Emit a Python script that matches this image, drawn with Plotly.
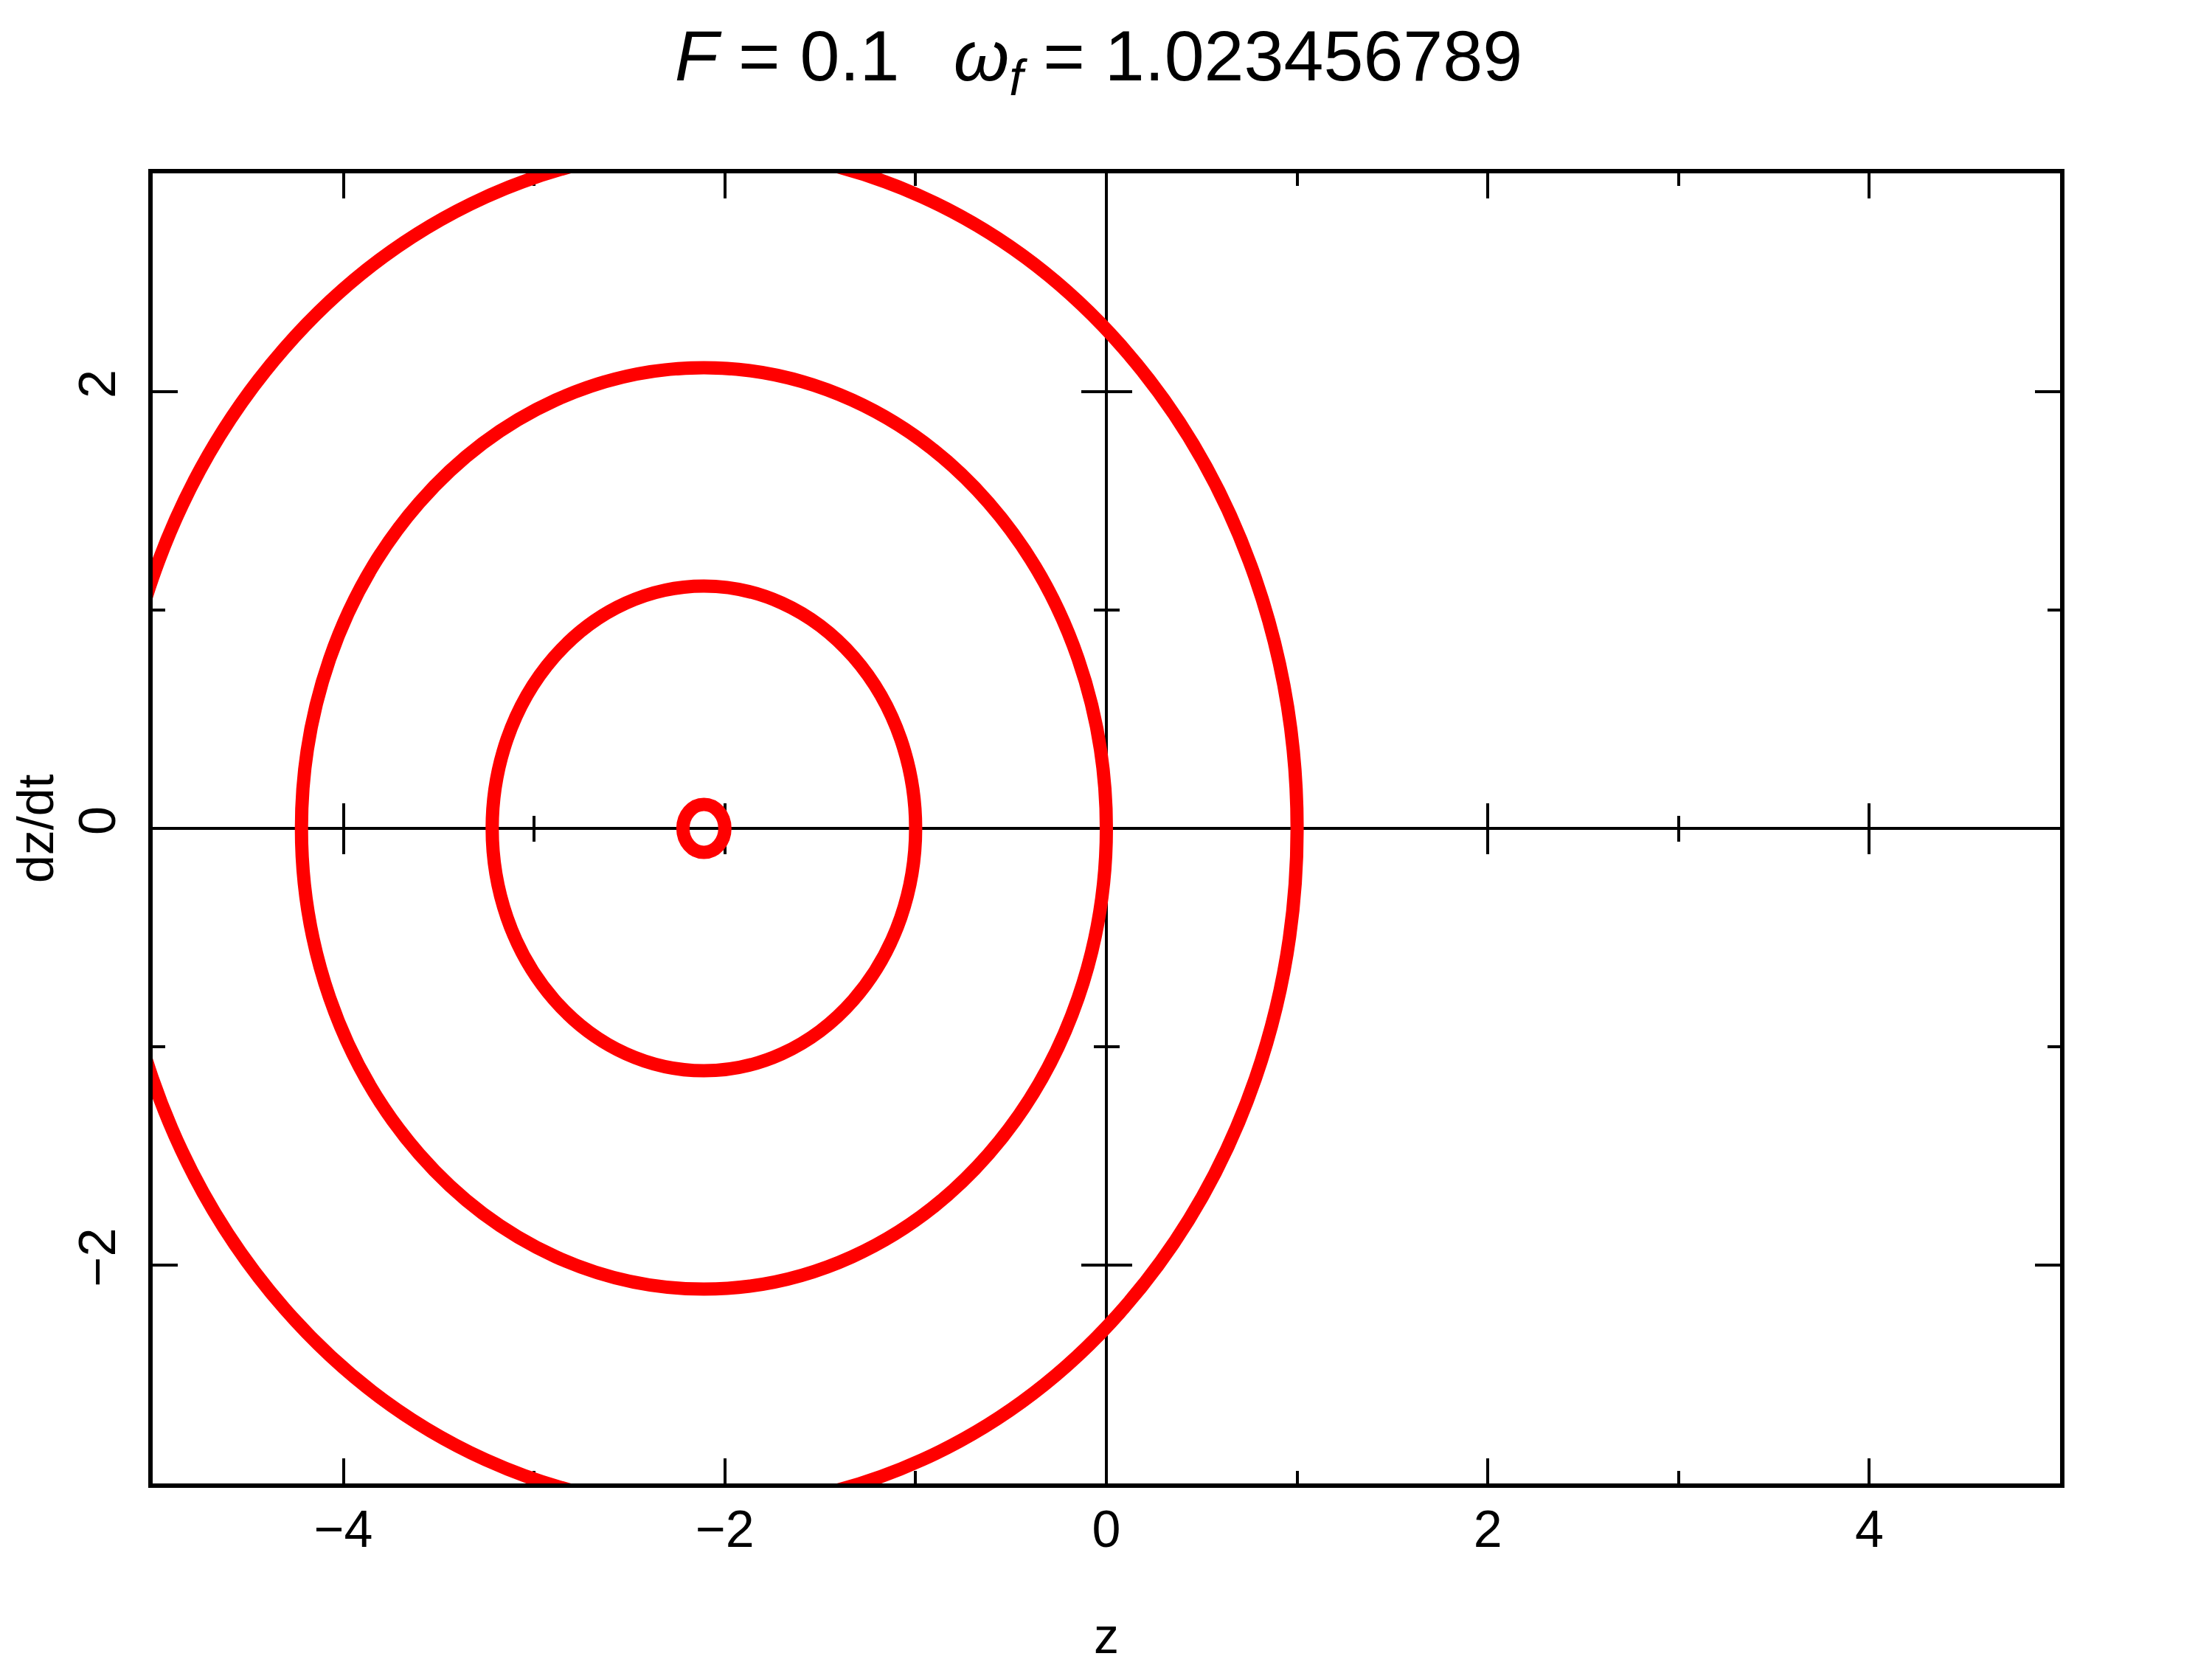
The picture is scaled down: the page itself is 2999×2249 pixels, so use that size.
import plotly.graph_objects as go

# ---- data ----
center_z = -2.11          # centre of the phase-space orbits (z)
center_v = 0.0            # centre of the phase-space orbits (dz/dt)
orbit_radii = [0.11, 1.11, 2.11, 3.11]

x_range = [-5, 5]
y_range = [-3, 3]
x_tickvals = [-4, -2, 0, 2, 4]
x_ticktext = ["\u22124", "\u22122", "0", "2", "4"]
x_minorvals = [-3, -1, 1, 3]
y_tickvals = [-2, 0, 2]
y_ticktext = ["\u22122", "0", "2"]
y_minorvals = [-1, 1]

title_text = "<i>F</i> = 0.1\u00a0\u00a0\u2009<i>\u03c9<sub>f</sub></i> = 1.023456789"
x_title = "z"
y_title = "dz/dt"

RED = "#ff0000"
FAM = "Liberation Sans Narrow, Liberation Sans, Arial"
TICKFONT = dict(family=FAM, size=70, color="black")

ML, MR, MT, MB = 199, 214, 227, 246
W, H = 2999, 2249

fig = go.Figure()

# invisible anchor traces so every axis is instantiated
for xa, ya in [("x", "y"), ("x2", "y"), ("x3", "y"), ("x", "y2"), ("x", "y3")]:
    fig.add_trace(go.Scatter(x=[None], y=[None], xaxis=xa, yaxis=ya, mode="lines",
                             showlegend=False, hoverinfo="skip"))

# orbits as circles in data coordinates
for r in orbit_radii:
    fig.add_shape(type="circle", xref="x", yref="y",
                  x0=center_z - r, x1=center_z + r,
                  y0=center_v - r, y1=center_v + r,
                  line=dict(color=RED, width=18), layer="above")

def frame_axis(minorvals):
    return dict(showline=True, linewidth=6, linecolor="black", mirror="ticks",
                ticks="inside", ticklen=34, tickwidth=3.5, tickcolor="black",
                showgrid=False, zeroline=True, zerolinewidth=4, zerolinecolor="black",
                automargin=False,
                minor=dict(ticks="inside", ticklen=17, tickwidth=3.5, tickcolor="black",
                           tickmode="array", tickvals=minorvals, showgrid=False),
                tickfont=TICKFONT)

def zero_tick_axis(rng, majors, minors, side):
    return dict(range=rng, anchor="free", position=0.5, ticks=side,
                showline=False, showgrid=False, zeroline=False, showticklabels=False,
                automargin=False,
                tickmode="array", tickvals=majors,
                ticklen=34, tickwidth=3.5, tickcolor="black",
                minor=dict(ticks=side, ticklen=17, tickwidth=3.5, tickcolor="black",
                           tickmode="array", tickvals=minors, showgrid=False))

# y-axis title as a free annotation near the left edge
fig.add_annotation(text=y_title, xref="paper", yref="paper",
                   x=(40 - ML) / (W - ML - MR), y=0.5, xanchor="center", yanchor="middle",
                   textangle=-90, showarrow=False, borderpad=0,
                   font=dict(family=FAM, size=68, color="black"))

fig.update_layout(
    width=W, height=H,
    margin=dict(l=ML, r=MR, t=MT, b=MB, autoexpand=False),
    paper_bgcolor="white", plot_bgcolor="white",
    showlegend=False,
    title=dict(text=title_text, x=0.494, xanchor="center", y=1 - 67 / H, yanchor="middle",
               font=dict(family="Liberation Sans, Arial", size=97, color="black")),
    xaxis=dict(range=x_range, tickmode="array", tickvals=x_tickvals, ticktext=x_ticktext,
               ticklabelstandoff=-4,
               title=dict(text=x_title, standoff=84,
                          font=dict(family=FAM, size=68, color="black")),
               **frame_axis(x_minorvals)),
    yaxis=dict(range=y_range, tickmode="array", tickvals=y_tickvals, ticktext=y_ticktext,
               tickangle=-90, ticklabelstandoff=17,
               **frame_axis(y_minorvals)),
    xaxis2=dict(overlaying="x", **zero_tick_axis(x_range, x_tickvals, x_minorvals, "outside")),
    xaxis3=dict(overlaying="x", **zero_tick_axis(x_range, x_tickvals, x_minorvals, "inside")),
    yaxis2=dict(overlaying="y", **zero_tick_axis(y_range, y_tickvals, y_minorvals, "outside")),
    yaxis3=dict(overlaying="y", **zero_tick_axis(y_range, y_tickvals, y_minorvals, "inside")),
)

fig.write_html("out.html")
